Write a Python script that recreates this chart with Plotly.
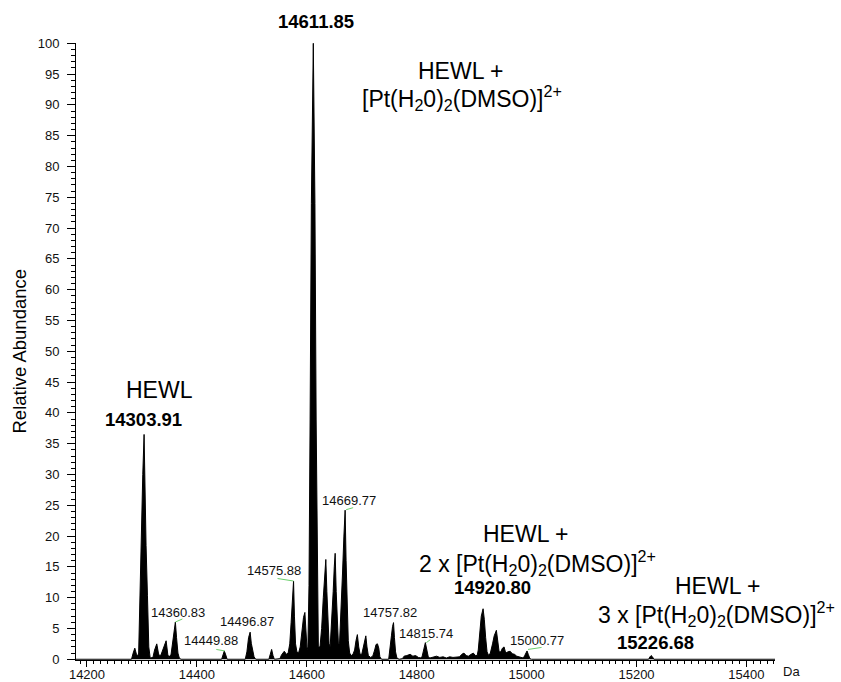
import plotly.graph_objects as go

# ---------------- data ----------------
mass_da = [
    14180, 14276, 14281, 14284, 14287, 14290, 14292,
    14294, 14296, 14298, 14301.5, 14303.91, 14305.8, 14307.5, 14310, 14312.5, 14315,
    14320, 14323, 14327, 14330, 14332,
    14335, 14338, 14341, 14344, 14347, 14349,
    14353, 14356, 14358.5, 14360.83, 14363, 14365.5, 14368, 14371,
    14445, 14447.5, 14449.88, 14452.5, 14455,
    14488, 14491, 14494, 14496.87, 14499, 14501.5, 14504, 14507,
    14531, 14533.5, 14536, 14538.5, 14541,
    14551, 14554, 14559, 14563, 14566,
    14569, 14571.5, 14574, 14575.88, 14577.5, 14579.5, 14582,
    14585, 14588, 14591, 14594, 14596.5, 14598.5, 14600.5,
    14602, 14604, 14606, 14608.3, 14611.85, 14614.8, 14617, 14619, 14621,
    14624, 14627, 14630, 14632.5, 14634.6, 14636.5, 14638.5, 14640.5,
    14642.5, 14645, 14648, 14650, 14651.6, 14653.5, 14655.5, 14657.5,
    14659.5, 14662, 14665, 14667.5, 14669.77, 14671.5, 14673.5, 14675.5, 14678, 14681, 14684,
    14687, 14689.5, 14692, 14694.5, 14697, 14700, 14703, 14705.5, 14707.4, 14709.5, 14712,
    14716, 14720, 14723.5, 14726, 14728.6, 14731, 14733, 14736,
    14749, 14751.5, 14754, 14756, 14757.82, 14759.5, 14761.5, 14764, 14768,
    14774, 14777, 14782, 14788, 14793, 14798, 14803, 14808,
    14810, 14812.5, 14815.74, 14818.5, 14821, 14824,
    14830, 14836, 14842, 14848, 14854, 14860, 14866, 14872,
    14878, 14882, 14886, 14890, 14894, 14899, 14903, 14907, 14910,
    14912, 14915, 14917.5, 14920.8, 14923, 14925.5, 14928, 14931, 14934,
    14938, 14941, 14945, 14947.5, 14950,
    14953, 14956, 14959, 14962,
    14966, 14970, 14974, 14978, 14982, 14986, 14990, 14994,
    14996.5, 14999, 15000.77, 15003, 15006, 15009,
    15222, 15224.5, 15226.68, 15229, 15231.5,
    15452,
]
rel_abundance = [
    0, 0, 0, 1.0, 1.8, 0.8, 0.5,
    1.0, 10.4, 18.5, 30, 36.5, 26, 18.5, 10.4, 2, 0.2,
    0.3, 1.5, 2.5, 1.0, 0.5,
    0.8, 1.5, 2.2, 3.0, 0.8, 0.3,
    0.8, 3.0, 5.0, 6.05, 3.5, 1.0, 0.2, 0,
    0, 0.8, 1.35, 0.7, 0,
    0, 1.2, 3.5, 4.4, 2.6, 1.3, 0.4, 0,
    0, 0.8, 1.6, 0.6, 0,
    0.1, 0.7, 1.3, 0.8, 1.0,
    2.5, 6, 10.5, 12.7, 7, 2.5, 1.2,
    1.0, 2, 4.5, 6.8, 7.6, 4, 1.5,
    2, 12, 39, 74, 100, 74, 39, 12, 2,
    2, 5, 10, 14, 16.2, 11, 5, 2.5,
    2.0, 5.5, 11, 15, 17.2, 11, 5, 2.5,
    2.5, 7, 14, 20, 24.2, 16, 8, 3, 1, 0.6, 0.8,
    1.5, 3.0, 4.0, 2.0, 0.8, 0.8, 2.0, 3.3, 3.8, 2.0, 0.6,
    0.3, 0.5, 1.5, 2.4, 2.5, 1.8, 0.4, 0,
    0, 1.5, 3.8, 5.3, 5.95, 3.5, 1.2, 0.2, 0,
    0.1, 0.5, 0.6, 0.8, 0.5, 0.6, 0.3, 0.2,
    0.5, 1.5, 2.7, 1.5, 0.4, 0.2,
    0.3, 0.5, 0.3, 0.4, 0.2, 0.4, 0.3, 0.4,
    0.4, 0.8, 1.0, 0.6, 0.5, 0.8, 1.0, 0.6, 0.6,
    1.5, 4.5, 7.0, 8.2, 6.5, 3.5, 1.2, 0.6, 1.0,
    2.5, 3.8, 4.7, 2.5, 1.2,
    1.2, 1.8, 2.0, 1.0,
    1.2, 1.3, 0.9, 0.8, 0.5, 0.4, 0.3, 0.2,
    0.6, 1.2, 1.35, 0.8, 0.1, 0,
    0, 0.4, 0.6, 0.4, 0,
    0,
]

# small peak labels: text, mass, abundance
small_label_text = ["14360.83", "14449.88", "14496.87", "14575.88",
                    "14669.77", "14757.82", "14815.74", "15000.77"]
small_label_mass = [14360.83, 14449.88, 14496.87, 14575.88,
                    14669.77, 14757.82, 14815.74, 15000.77]
small_label_abund = [6.05, 1.35, 4.4, 12.7, 24.2, 5.95, 2.7, 1.35]

# bold peak labels
bold_label_text = ["14303.91", "14611.85", "14920.80", "15226.68"]
bold_label_mass = [14303.91, 14611.85, 14920.80, 15226.68]
bold_label_abund = [36.5, 100, 8.2, 0.6]

x_tick_vals = [14200, 14400, 14600, 14800, 15000, 15200, 15400]
x_tick_text = ["14200", "14400", "14600", "14800", "15000", "15200", "15400"]
y_tick_vals = list(range(0, 101, 5))

FONT = "Liberation Sans, Arial, sans-serif"
TXT = "#111111"

fig = go.Figure()
fig.add_trace(go.Scatter(
    x=mass_da, y=rel_abundance, mode="lines",
    line=dict(color="black", width=1),
    fill="tozeroy", fillcolor="black",
    hoverinfo="x+y", showlegend=False,
))

# small label offsets (pixels) and leader lines
small_shift = [(3, 7), (-13, 8), (-3, 8), (-20, 8), (4, 7), (-3.5, 7.5), (0.5, 7), (10, 8)]
leaders = {
    "14360.83": (0, 0, 7, 3),
    "14449.88": (-8, 1.5, 0.5, 0),
    "14575.88": (-16, 2.5, 0, 0),
    "14669.77": (1, 0.5, 8, 2.5),
    "14815.74": (1, 0, 5, 3),
    "15000.77": (1, 1.5, 14.5, 3.5),
}
annotations = []
shapes = []
for t, m, a, (dx, dy) in zip(small_label_text, small_label_mass, small_label_abund, small_shift):
    annotations.append(dict(
        x=m, y=a, xref="x", yref="y", text=t, showarrow=False,
        xanchor="center", yanchor="bottom", xshift=dx, yshift=dy - 7,
        font=dict(family=FONT, size=13, color=TXT),
    ))
    if t in leaders:
        x0, y0, x1, y1 = leaders[t]
        shapes.append(dict(
            type="line", xref="x", yref="y", xsizemode="pixel", ysizemode="pixel",
            xanchor=m, yanchor=a, x0=x0, y0=y0, x1=x1, y1=y1,
            line=dict(color="#6ccf6c", width=1),
        ))

bold_shift = [(-1, 14.5), (2.6, 22), (9, 21), (4.5, 12.6)]
for t, m, a, (dx, dy) in zip(bold_label_text, bold_label_mass, bold_label_abund, bold_shift):
    annotations.append(dict(
        x=m, y=a, xref="x", yref="y", text="<b>%s</b>" % t, showarrow=False,
        xanchor="center", yanchor="middle", xshift=dx, yshift=dy,
        font=dict(family=FONT, size=18.5, color="black"),
    ))

# plot box in pixels: x 76..775, y 43..660
def px(xp):
    return (xp - 76) / 699.0

def py(yp):
    return (660 - yp) / 617.0

PT = "[Pt(H<sub>2</sub>0)<sub>2</sub>(DMSO)]<sup>2+</sup>"
desc = [
    ("HEWL", 159, 390),
    ("HEWL +", 460, 71),
    (PT, 462, 98),
    ("HEWL +", 525, 534),
    ("2 x " + PT, 537, 563),
    ("HEWL +", 717, 586),
    ("3 x " + PT, 716, 614),
]
for t, xp, yp in desc:
    annotations.append(dict(
        x=px(xp), y=py(yp), xref="paper", yref="paper", text=t, showarrow=False,
        xanchor="center", yanchor="middle",
        font=dict(family=FONT, size=23, color="black"),
    ))

annotations.append(dict(
    x=px(18.5), y=py(351), xref="paper", yref="paper", text="Relative Abundance",
    showarrow=False, textangle=-90, xanchor="center", yanchor="middle",
    font=dict(family=FONT, size=18.5, color="black"),
))
annotations.append(dict(
    x=px(792), y=py(671), xref="paper", yref="paper", text="Da",
    showarrow=False, xanchor="center", yanchor="middle",
    font=dict(family=FONT, size=13, color=TXT),
))

fig.update_layout(
    width=841, height=682,
    margin=dict(l=76, r=66, t=43, b=22, autoexpand=False),
    paper_bgcolor="white", plot_bgcolor="white",
    showlegend=False,
    annotations=annotations,
    shapes=shapes,
    xaxis=dict(
        range=[14180, 15452], tickvals=x_tick_vals, ticktext=x_tick_text,
        ticks="outside", ticklen=6, tickwidth=1, tickcolor="black",
        minor=dict(dtick=12.5, tick0=14200, ticks="outside", ticklen=3, tickcolor="black"),
        showline=True, linecolor="black", linewidth=1,
        showgrid=False, zeroline=False,
        tickfont=dict(family=FONT, size=13, color=TXT),
        ticklabelstandoff=-4,
        automargin=False,
    ),
    yaxis=dict(
        range=[-0.12, 100.05], tickvals=y_tick_vals,
        ticks="outside", ticklen=8, tickwidth=1, tickcolor="black",
        minor=dict(dtick=1, tick0=0, ticks="outside", ticklen=4, tickcolor="black"),
        showline=True, linecolor="black", linewidth=1,
        showgrid=False, zeroline=False,
        tickfont=dict(family=FONT, size=13, color=TXT),
        ticklabelstandoff=5,
        automargin=False,
    ),
)

fig.write_html(
    "out.html",
    config={"displayModeBar": False},
    post_script="document.body.style.margin='0';document.body.style.overflow='hidden';",
)
